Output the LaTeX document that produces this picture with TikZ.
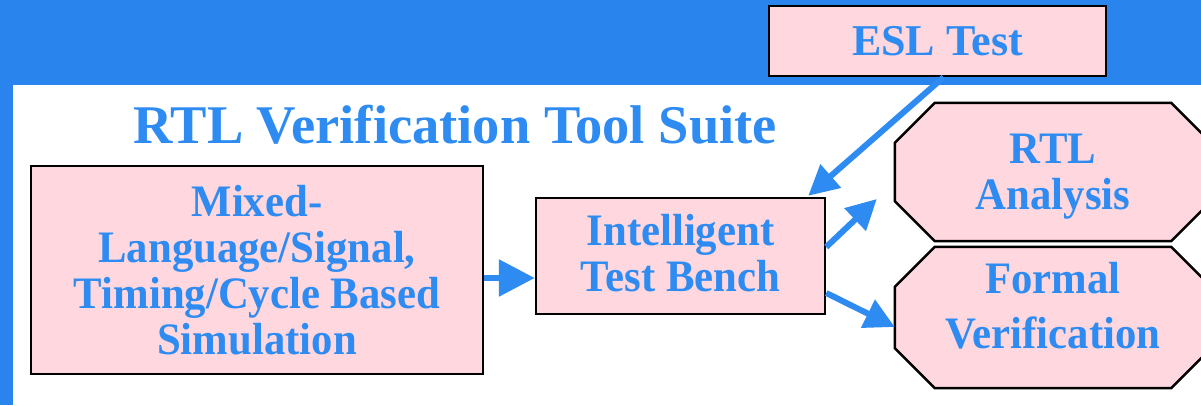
\documentclass[tikz,border=0pt]{standalone}
\usepackage{fontspec}
\setmainfont{Liberation Serif}
\newfontfamily\narrowserif{Liberation Serif}[FakeStretch=0.95]
\usetikzlibrary{arrows.meta,backgrounds}

\definecolor{bandblue}{RGB}{41,132,238}
\definecolor{txtblue}{RGB}{46,139,242}
\definecolor{boxpink}{RGB}{255,215,223}

\begin{document}
\begin{tikzpicture}[x=1pt,y=-1pt,
  txt/.style={text=txtblue,align=center,inner sep=0pt,font=\narrowserif\bfseries\fontsize{45}{46}\selectfont},
  box/.style={txt,draw=black,line width=2.5pt,fill=boxpink},
  arr/.style={draw=txtblue,line width=6pt,-{Triangle[length=30pt,width=30pt]}},
  bigarr/.style={arr,-{Triangle[length=36pt,width=36pt]}}]
\useasboundingbox (0,0) rectangle (1201,405);
\clip (0,0) rectangle (1201,405);

\node[box,minimum width=337pt,minimum height=70pt,font=\bfseries\fontsize{44}{46}\selectfont] (esl) at (937.5,41) {ESL Test};
\node[text=txtblue,anchor=base,inner sep=0pt,font=\bfseries\fontsize{54.5}{60}\selectfont] (title) at (455,143) {RTL Verification Tool Suite};

\node[box,minimum width=452pt,minimum height=208pt] (mix) at (257,270) {Mixed-\\Language/Signal,\\Timing/Cycle Based\\Simulation};
\node[box,minimum width=289pt,minimum height=116pt,text depth=7pt] (itb) at (680.5,256) {Intelligent\\Test Bench};

\node[txt,minimum width=316pt,minimum height=138pt,text height=84pt] (rtl) at (1053,172) {RTL\\Analysis};
\node[txt,minimum width=316pt,minimum height=141pt,text depth=24pt] (fv) at (1053,317.5) {Formal\\[9pt]Verification};

% band, frame and the two octagons behind the texts
\begin{scope}[on background layer]
\fill[bandblue] (0,0) rectangle (1201,405);
\fill[white] (13,85) rectangle (1201,405);
\foreach \n in {rtl,fv}
  \filldraw[fill=boxpink,draw=black,line width=2.5pt]
    ([xshift=40pt]\n.north west) -- ([xshift=-40pt]\n.north east)
    -- ([yshift=-40pt]\n.north east) -- ([yshift=40pt]\n.south east)
    -- ([xshift=-40pt]\n.south east) -- ([xshift=40pt]\n.south west)
    -- ([yshift=40pt]\n.south west) -- ([yshift=-40pt]\n.north west) -- cycle;
\end{scope}

\draw[bigarr] ([yshift=-8pt]mix.east) -- ([yshift=-22pt]itb.west);
\draw[arr] ([xshift=6pt]esl.south) -- ([xshift=-18pt,yshift=1pt]itb.north east);
\draw[arr] ([yshift=9pt]itb.east) -- ([xshift=-18pt,yshift=-27pt]rtl.west);
\draw[arr] ([yshift=-37pt]itb.east) -- ([yshift=-9.5pt]fv.west);
\end{tikzpicture}
\end{document}
